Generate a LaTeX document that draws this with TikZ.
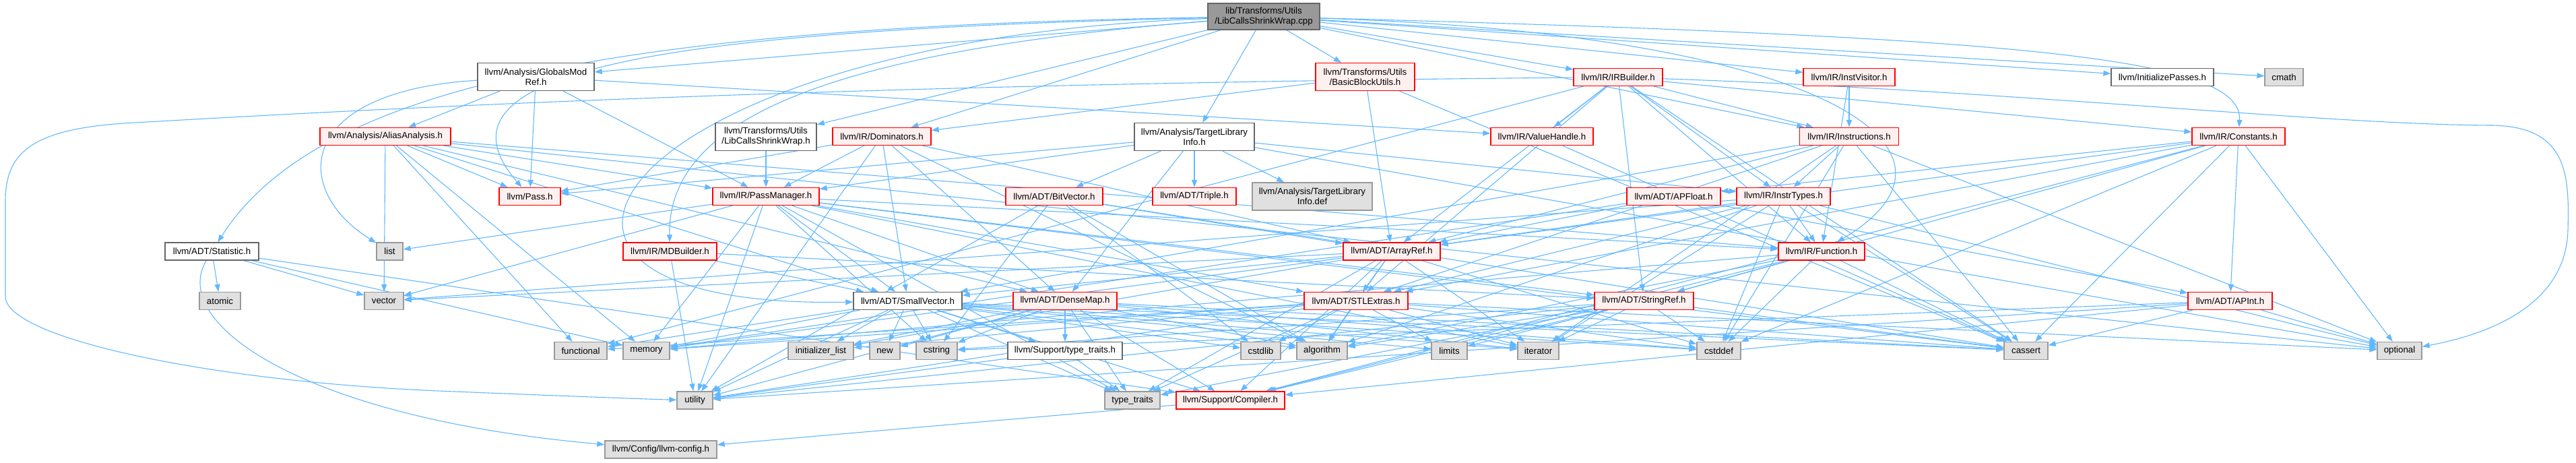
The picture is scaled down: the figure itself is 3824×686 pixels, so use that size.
\documentclass[tikz,border=0pt]{standalone}
\usepackage{fontspec}
\setmainfont{Liberation Sans}
\usetikzlibrary{arrows.meta,backgrounds}
\definecolor{edgec}{HTML}{63B8FF}
\definecolor{redfill}{HTML}{FFF0F0}
\definecolor{grayfill}{HTML}{E0E0E0}
\definecolor{grayline}{HTML}{999999}
\definecolor{darkline}{HTML}{666666}
\definecolor{rootfill}{HTML}{999999}
\newcommand\mknode[7]{\node[#6, minimum width=#4pt, minimum height=#5pt] (#1) at (#2,#3) {#7};}
\begin{document}
\begin{tikzpicture}[x=1pt,y=-1pt,
  box/.style={draw, inner sep=0pt, line width=1.3pt, font=\fontsize{13.3}{15}\selectfont, align=center},
  rednode/.style={box, draw=red, fill=redfill},
  graynode/.style={box, draw=grayline, fill=grayfill},
  whitenode/.style={box, draw=darkline, fill=white},
  rootnode/.style={box, draw=darkline, fill=rootfill},
  edg/.style={draw=edgec, line width=1.1pt, -{Triangle[length=11pt,width=8pt]}}
]
\useasboundingbox (0,0) rectangle (3824,686);
% row 0
\mknode{r}{1876}{24.5}{166}{39}{rootnode}{lib/Transforms/Utils\\/LibCallsShrinkWrap.cpp}
% row A
\mknode{gm}{795.5}{114}{173}{41}{whitenode}{llvm/Analysis/GlobalsMod\\Ref.h}
\mknode{bbu}{2026.5}{114}{147}{41}{rednode}{llvm/Transforms/Utils\\/BasicBlockUtils.h}
\mknode{irb}{2402}{114.5}{132}{26}{rednode}{llvm/IR/IRBuilder.h}
\mknode{iv}{2745}{114.5}{136}{26}{rednode}{llvm/IR/InstVisitor.h}
\mknode{ip}{3210}{114.5}{152}{26}{whitenode}{llvm/InitializePasses.h}
\mknode{cmath}{3390.5}{114.5}{57}{26}{graynode}{cmath}
% row B
\mknode{aa}{572}{202.5}{194}{26}{rednode}{llvm/Analysis/AliasAnalysis.h}
\mknode{lh}{1137}{203}{150}{41}{whitenode}{llvm/Transforms/Utils\\/LibCallsShrinkWrap.h}
\mknode{dom}{1309}{202.5}{146}{26}{rednode}{llvm/IR/Dominators.h}
\mknode{tlih}{1773}{203}{178}{41}{whitenode}{llvm/Analysis/TargetLibrary\\Info.h}
\mknode{vh}{2289}{202.5}{152}{26}{rednode}{llvm/IR/ValueHandle.h}
\mknode{ins}{2745}{202.5}{147}{26}{rednode}{llvm/IR/Instructions.h}
\mknode{con}{3323}{202.5}{138}{26}{rednode}{llvm/IR/Constants.h}
% row C
\mknode{pass}{786.5}{291.5}{91}{26}{rednode}{llvm/Pass.h}
\mknode{pm}{1137}{291.5}{158}{26}{rednode}{llvm/IR/PassManager.h}
\mknode{bv}{1565}{291.5}{144}{26}{rednode}{llvm/ADT/BitVector.h}
\mknode{tri}{1773}{291.5}{124}{26}{rednode}{llvm/ADT/Triple.h}
\mknode{tlid}{1948}{291.5}{178}{41}{graynode}{llvm/Analysis/TargetLibrary\\Info.def}
\mknode{apf}{2484.5}{291.5}{139}{26}{rednode}{llvm/ADT/APFloat.h}
\mknode{it}{2647.5}{291.5}{139}{26}{rednode}{llvm/IR/InstrTypes.h}
% row D
\mknode{stat}{314.5}{373}{139}{26}{whitenode}{llvm/ADT/Statistic.h}
\mknode{list}{578.5}{373}{39}{26}{graynode}{list}
\mknode{mdb}{994.5}{373}{139}{26}{rednode}{llvm/IR/MDBuilder.h}
\mknode{ar}{2066}{373}{144}{26}{rednode}{llvm/ADT/ArrayRef.h}
\mknode{fn}{2704}{373}{128}{26}{rednode}{llvm/IR/Function.h}
% row E
\mknode{atomic}{326.5}{446.5}{61}{26}{graynode}{atomic}
\mknode{vector}{570}{446.5}{58}{26}{graynode}{vector}
\mknode{sv}{1347.5}{446.5}{161}{26}{whitenode}{llvm/ADT/SmallVector.h}
\mknode{dm}{1581}{446.5}{154}{26}{rednode}{llvm/ADT/DenseMap.h}
\mknode{stl}{2013}{446.5}{154}{26}{rednode}{llvm/ADT/STLExtras.h}
\mknode{sr}{2440.5}{446.5}{147}{26}{rednode}{llvm/ADT/StringRef.h}
\mknode{api}{3310.5}{446.5}{125}{26}{rednode}{llvm/ADT/APInt.h}
% row F
\mknode{functional}{862}{520.5}{78}{26}{graynode}{functional}
\mknode{memory}{959.5}{520.5}{69}{26}{graynode}{memory}
\mknode{il}{1218.5}{520.5}{97}{26}{graynode}{initializer\_list}
\mknode{new}{1313.5}{520.5}{45}{26}{graynode}{new}
\mknode{cstring}{1390.5}{520.5}{61}{26}{graynode}{cstring}
\mknode{stt}{1581}{520.5}{170}{26}{whitenode}{llvm/Support/type\_traits.h}
\mknode{cstdlib}{1871.5}{520.5}{59}{26}{graynode}{cstdlib}
\mknode{algorithm}{1962.5}{520.5}{75}{26}{graynode}{algorithm}
\mknode{limits}{2151.5}{520.5}{53}{26}{graynode}{limits}
\mknode{iterator}{2283.5}{520.5}{61}{26}{graynode}{iterator}
\mknode{cstddef}{2551.5}{520.5}{65}{26}{graynode}{cstddef}
\mknode{cassert}{3007.5}{520.5}{65}{26}{graynode}{cassert}
\mknode{optional}{3562}{520.5}{66}{26}{graynode}{optional}
% row G
\mknode{utility}{1031.5}{594}{53}{26}{graynode}{utility}
\mknode{tt}{1681}{594}{82}{26}{graynode}{type\_traits}
\mknode{comp}{1826.5}{594}{161}{26}{rednode}{llvm/Support/Compiler.h}
% row H
\mknode{cfg}{981}{667}{166}{26}{graynode}{llvm/Config/llvm-config.h}

\begin{scope}[on background layer]
% root
\foreach \t in {lh,gm,tlih,dom,irb,iv,ins,ip,bbu,cmath} \draw[edg] (r) -- (\t);
\draw[edg] (r) .. controls (900,40) and (470,130) .. (stat);
\draw[edg] (r) .. controls (1000,45) and (620,100) .. (pass);
\draw[edg] (r) .. controls (1250,75) and (990,170) .. (mdb);
\draw[edg] (r) .. controls (900,60) and (650,460) .. (sv);
\draw[edg] (r) .. controls (2700,50) and (2960,220) .. (fn);
\draw[edg] (r) .. controls (3000,55) and (3330,85) .. (con);
% GlobalsModRef
\foreach \t in {aa,pm,vh,pass} \draw[edg] (gm) -- (\t);
\draw[edg] (gm) .. controls (440,135) and (430,280) .. (list);
% AliasAnalysis
\foreach \t in {dm,sv,fn,pm,pass,functional,memory,optional,vector} \draw[edg] (aa) -- (\t);
% LibCallsShrinkWrap.h
\draw[edg] (lh) -- (pm);
% Dominators
\foreach \t in {ar,dm,sv,pm,pass,utility,algorithm} \draw[edg] (dom) -- (\t);
% TargetLibraryInfo.h
\foreach \t in {bv,tri,tlid,dm,it,pm,pass,optional} \draw[edg] (tlih) -- (\t);
% BasicBlockUtils
\foreach \t in {ar,dom,cassert} \draw[edg] (bbu) -- (\t);
% IRBuilder
\foreach \t in {ar,stl,sr,con,fn,it,ins,vh,cassert,functional} \draw[edg] (irb) -- (\t);
\draw[edg] (irb) .. controls (3000,135) and (3450,185) .. (3700,186)
  .. controls (3812,188) and (3814,260) .. (3812,340)
  .. controls (3810,450) and (3700,495) .. (optional);
\draw[edg] (irb) .. controls (1200,125) and (500,165) .. (200,182)
  .. controls (40,190) and (8,230) .. (8,300) -- (8,440)
  .. controls (8,500) and (300,565) .. (650,580)
  .. controls (800,586) and (950,592) .. (utility);
% InstVisitor
\foreach \t in {fn,ins} \draw[edg] (iv) -- (\t);
% Instructions
\foreach \t in {ar,stl,sv,it,iterator,cassert,cstddef,optional} \draw[edg] (ins) -- (\t);
% InstrTypes
\foreach \t in {ar,stl,fn,algorithm,cassert,cstddef,iterator,optional,vector} \draw[edg] (it) -- (\t);
% Function
\foreach \t in {sr,algorithm,cassert,cstddef,memory,comp} \draw[edg] (fn) -- (\t);
% Constants
\foreach \t in {apf,api,ar,stl,sr,comp,cassert,cstddef,optional} \draw[edg] (con) -- (\t);
% PassManager
\foreach \t in {dm,stl,sv,sr,fn,cassert,cstring,iterator,list,memory,tt,utility,vector} \draw[edg] (pm) -- (\t);
% BitVector
\foreach \t in {ar,algorithm,cassert,cstdlib,cstring,utility} \draw[edg] (bv) -- (\t);
% APFloat
\foreach \t in {api,ar,memory} \draw[edg] (apf) -- (\t);
% Statistic
\foreach \t in {atomic,vector,memory,comp} \draw[edg] (stat) -- (\t);
\draw[edg] (stat) .. controls (250,480) and (450,620) .. (cfg);
% MDBuilder
\foreach \t in {sr,sv,utility} \draw[edg] (mdb) -- (\t);
% ValueHandle
\draw[edg] (vh) -- (cassert);
% ArrayRef
\foreach \t in {stl,sv,comp,algorithm,cstddef,il,iterator,memory,tt,vector} \draw[edg] (ar) -- (\t);
% SmallVector
\foreach \t in {comp,stt,algorithm,cassert,cstddef,cstdlib,cstring,functional,il,iterator,limits,memory,new,tt,utility} \draw[edg] (sv) -- (\t);
% DenseMap
\foreach \t in {comp,stt,algorithm,cassert,cstddef,cstring,il,iterator,new,tt,utility} \draw[edg] (dm) -- (\t);
% STLExtras
\foreach \t in {iterator,algorithm,cassert,cstddef,cstdlib,functional,il,limits,memory,optional,tt,utility} \draw[edg] (stl) -- (\t);
% StringRef
\foreach \t in {comp,algorithm,cassert,cstddef,cstring,limits,tt,utility,iterator} \draw[edg] (sr) -- (\t);
% APInt
\foreach \t in {comp,cassert,cstring,optional,utility} \draw[edg] (api) -- (\t);
% type_traits.h
\foreach \t in {tt,utility} \draw[edg] (stt) -- (\t);
% Compiler
\draw[edg] (comp) -- (cfg);
\end{scope}
\end{tikzpicture}
\end{document}
